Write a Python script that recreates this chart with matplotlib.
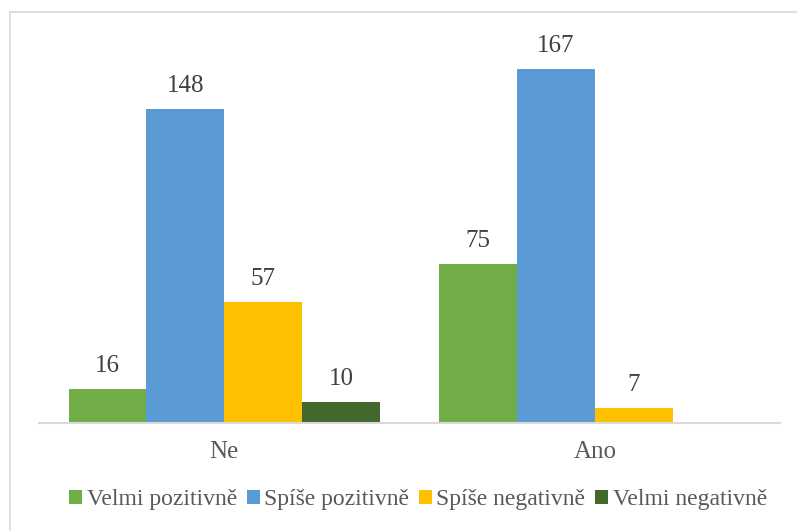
import numpy as np
import matplotlib.pyplot as plt
from matplotlib.lines import Line2D

plt.rcParams['font.family'] = ['Liberation Serif', 'DejaVu Serif']

categories = ['Ne', 'Ano']
series = ['Velmi pozitivně', 'Spíše pozitivně', 'Spíše negativně', 'Velmi negativně']
velmi_poz = [16, 75]
spise_poz = [148, 167]
spise_neg = [57, 7]
velmi_neg = [10, 0]
colors = ['#70AD47', '#5B9BD5', '#FFC000', '#43682B']

values = [velmi_poz, spise_poz, spise_neg, velmi_neg]

fig = plt.figure(figsize=(7.97, 5.31), dpi=100)
ax = fig.add_axes([39/797, 1 - 422.7/531, 741/797, (422.7 - 41.5)/531])

x = np.arange(len(categories))
w = 0.21
for i, (name, vals) in enumerate(zip(series, values)):
    bars = ax.bar(x + (i - 1.5) * w, vals, w, color=colors[i], label=name)
    labels = [str(v) if v > 0 else '' for v in vals]
    ax.bar_label(bars, labels=labels, padding=8.5, fontsize=18, color='#404040')

ax.set_xlim(-0.5, 1.5)
ax.set_ylim(0, 180)
ax.set_yticks([])
ax.set_xticks(x)
ax.set_xticklabels(categories, fontsize=18, color='#595959')
ax.tick_params(axis='x', length=0, pad=13)
for s in ['top', 'right', 'left']:
    ax.spines[s].set_visible(False)
ax.spines['bottom'].set_color('#D9D9D9')
ax.spines['bottom'].set_linewidth(1.5)

# chart border (cropped at right and bottom)
fig.add_artist(Line2D([10/797, 1], [1 - 12/531, 1 - 12/531], color='#D9D9D9', lw=1.2))
fig.add_artist(Line2D([10/797, 10/797], [0, 1 - 12/531], color='#D9D9D9', lw=1.2))

leg = fig.legend(loc='center', bbox_to_anchor=(418/797, 1 - 500/531), ncol=4,
                 frameon=False, fontsize=17, handlelength=0.55, handleheight=0.55,
                 handletextpad=0.2, columnspacing=0.4, labelcolor='#595959')

fig.savefig('out.png', dpi=100)
